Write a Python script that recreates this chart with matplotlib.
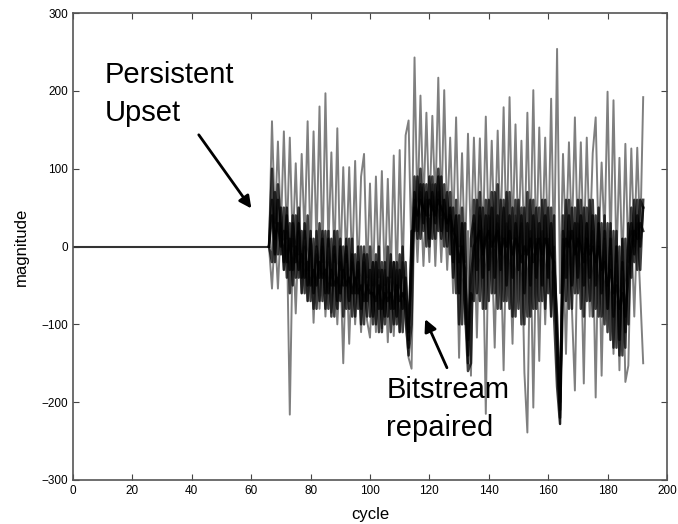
import matplotlib.pyplot as plt

plt.rcParams['font.family'] = ['Liberation Sans', 'DejaVu Sans']

# flat output before the upset
flat_cycle = [0, 66]
flat_mag = [0, 0]

# cycles after the upset
cycle = list(range(66, 193))

# light traces (spikes up / spikes down)
peaks = [0, 161, 30, 135, 20, 148, 10, 140, 0, 107,
         -10, 119, 10, 161, -10, 148, 0, 180, -20, 197,
         0, 121, -20, 152, -30, 102, -20, 102, -30, 110,
         -40, 90, 119, -40, 81, -50, 90, -40, 97, -50,
         87, -40, 117, -50, 124, -40, 143, 162, -20, 243,
         40, 194, 50, 172, 40, 168, 50, 217, 40, 201,
         30, 140, 20, 166, 0, 120, -20, 145, 0, 140,
         10, 139, 0, 167, 10, 136, 0, 149, 10, 179,
         0, 192, 10, 157, 0, 136, -10, 172, 0, 201,
         -10, 153, 0, 140, -10, 190, -20, 254, -60, 119,
         0, 134, 10, 166, 0, 134, -10, 140, 0, 120,
         166, 0, 108, 10, 199, -10, 188, -20, 114, -30,
         132, -20, 126, 0, 127, 10, 192]
troughs = [0, -54, 20, -54, 30, -30, 20, -216, 10, -86,
           20, -60, 0, -70, 10, -98, -10, -80, 0, -90,
           -20, -85, -10, -100, -20, -150, -10, -125, -20, -100,
           -30, -110, -20, -95, -117, -20, -110, -30, -105, -30,
           -123, -20, -115, -30, -110, -20, -100, -143, -157, 60,
           -20, 70, -25, 60, -20, 80, -25, 70, -20, 60,
           -30, 50, -60, 40, -143, 30, -100, 20, -166, 30,
           -117, 40, 10, -215, 40, 0, -130, 30, 0, -159,
           30, 0, -125, 40, 0, 30, -162, -239, 20, -207,
           10, -147, 20, -100, 10, -90, 0, -100, -228, 10,
           -138, 20, -80, -185, 30, 0, -176, 30, -90, 20,
           -194, 30, -166, 10, -80, 20, -138, 0, -159, 10,
           -174, -153, 20, -90, 30, -60, -150]

# dark core traces
dark1 = [0, 100, -20, 60, -10, 50, -40, 30, -50, 40,
         -40, 20, -60, 40, -70, 10, -80, 30, -70, 20,
         -80, 10, -90, 20, -70, 0, -80, 10, -90, -10,
         -80, 0, -100, -10, -90, -20, -100, 0, -110, -20,
         -90, -10, -100, -20, -110, 0, -90, -140, -100, 90,
         10, 100, 20, 80, 0, 90, 10, 100, 20, 80,
         0, 70, -40, 60, -100, 50, -80, -160, -150, 60,
         -60, 70, -80, 60, -70, 70, -60, 80, -80, 60,
         -70, 70, -90, 60, -80, 50, -100, 70, -90, 60,
         -80, 50, -70, 60, -60, 50, -90, -180, -228, 40,
         -70, 60, -80, 50, -60, 60, -90, 50, -70, 60,
         -80, 50, -90, 40, -110, 30, -130, 20, -140, 10,
         -130, 30, -40, 60, -30, 60, 50]
dark2 = [0, -20, 70, -10, 50, -30, 40, -60, 30, -40,
         30, -60, 20, -70, 10, -80, 20, -70, 10, -80,
         20, -90, 0, -80, 10, -90, 0, -80, 10, -90,
         0, -100, -10, -90, 0, -100, -10, -110, -20, -100,
         0, -110, -20, -100, -10, -110, -20, -130, 20, 20,
         90, 10, 80, 0, 90, 10, 80, 20, 90, 0,
         70, -10, 50, -60, 40, -100, 30, -150, -60, -70,
         60, -70, 50, -80, 60, -60, 70, -80, 60, -70,
         70, -80, 50, -90, 60, -100, 50, -90, 60, -80,
         50, -70, 60, -80, 50, -90, 40, -150, -220, -60,
         60, -80, 50, -60, 60, -80, 50, -70, 60, -90,
         40, -90, 30, -100, 30, -120, 20, -130, 0, -140,
         10, -100, 50, -20, 60, -30, 60]
dark3 = [0, 40, 10, 30, 0, 20, -20, 10, -30, 0,
         -30, -10, -40, -20, -50, -30, -50, -20, -40, -30,
         -60, -30, -50, -40, -60, -30, -50, -40, -60, -40,
         -60, -50, -70, -50, -60, -60, -70, -50, -80, -60,
         -70, -60, -80, -50, -70, -60, -70, -120, -30, 50,
         40, 60, 50, 40, 60, 50, 40, 60, 50, 40,
         30, 40, 20, 10, -20, 0, -30, -120, -40, 0,
         10, 20, -10, 10, 20, 0, 10, 20, -10, 10,
         0, 20, -10, 10, 0, -20, 0, -10, 10, -20,
         0, 10, -10, 10, 0, -10, -20, -90, -200, -20,
         10, 0, 20, -10, 10, 0, -20, 10, -10, 0,
         -20, 0, -30, -20, -50, -30, -60, -50, -80, -60,
         -90, -40, 0, 20, 10, 30, 20]
dark4 = [0, 60, -10, 80, 20, -20, 50, -30, 40, -20,
         50, -40, 30, -50, 20, -60, 0, -40, 20, -60,
         10, -50, 20, -70, 0, -50, 10, -70, -10, -60,
         -20, -80, 0, -70, -30, -90, -20, -80, -30, -90,
         -40, -80, -20, -90, -30, -80, -40, -110, 0, 70,
         20, 80, 30, 70, 10, 70, 30, 90, 10, 60,
         20, 50, -20, 40, -60, 30, -70, -140, 10, 40,
         -30, 50, -40, 40, -30, 50, -40, 40, -30, 50,
         -50, 40, -40, 30, -30, 40, -60, 30, -50, 40,
         -40, 30, -50, 40, -40, 30, -60, -120, -210, 20,
         -40, 40, -50, 30, -40, 40, -50, 30, -40, 40,
         -50, 30, -60, 20, -80, 10, -90, 0, -120, -20,
         -110, 0, 30, -10, 40, 0, 50]

fig = plt.figure(figsize=(6.78, 5.24), dpi=100)
ax = fig.add_axes([0.1077, 0.084, 0.876, 0.891])

ax.plot(flat_cycle, flat_mag, color='#333333', linewidth=1.5)
for trace in [peaks, troughs]:
    ax.plot(cycle, trace, color='black', alpha=0.5, linewidth=1.4)
for trace in [dark1, dark2, dark3, dark4]:
    ax.plot(cycle, trace, color='black', alpha=0.75, linewidth=1.8)

ax.set_xlim(0, 200)
ax.set_ylim(-300, 300)
ax.set_xticks(range(0, 201, 20))
ax.set_yticks(range(-300, 301, 100))
ax.tick_params(direction='in', top=True, right=True, length=4,
               labelsize=8.5, colors='#444444', labelcolor='black')
for s in ax.spines.values():
    s.set_color('#555555')
    s.set_linewidth(1.2)

ax.set_xlabel('cycle', fontsize=12, labelpad=7)
ax.set_ylabel('magnitude', fontsize=12, labelpad=9)

ax.text(10.8, 238, 'Persistent\nUpset', fontsize=21, va='top', ha='left',
        linespacing=1.45)
ax.annotate('', xy=(60.6, 46), xytext=(41.8, 146.5),
            arrowprops=dict(arrowstyle='-|>', color='black', lw=2,
                            mutation_scale=18))
ax.text(105.5, -166, 'Bitstream\nrepaired', fontsize=21, va='top', ha='left',
        linespacing=1.45)
ax.annotate('', xy=(118.2, -90), xytext=(126.3, -159),
            arrowprops=dict(arrowstyle='-|>', color='black', lw=2,
                            mutation_scale=18))

plt.savefig('out.png', dpi=100)
plt.close()
